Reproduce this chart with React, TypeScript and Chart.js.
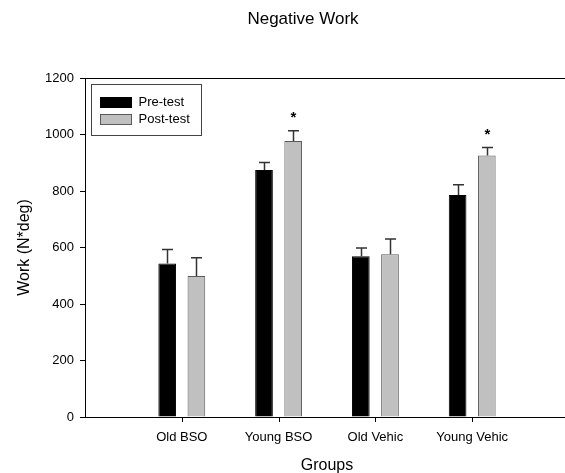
import React, { useEffect, useRef } from 'react';
import { Chart, registerables } from 'chart.js';

Chart.register(...registerables);

const categories = ['Old BSO', 'Young BSO', 'Old Vehic', 'Young Vehic'];
const preTest = [543, 874, 569, 786];
const postTest = [499, 977, 576, 926];
const preErr = [50, 27, 29, 36];
const postErr = [65, 36, 54, 28];
const postSignificant = [false, true, false, true];
const yMin = 0;
const yMax = 1200;
const yStep = 200;

const FONT = "'Liberation Sans', Arial, Helvetica, sans-serif";

const pad = (arr: any[]) => [null, ...arr, null];

const decorPlugin = {
  id: 'decor',
  afterDatasetsDraw(chart: any) {
    const ctx = chart.ctx;
    const ys = chart.scales.y;
    const xs = chart.scales.x;
    const area = chart.chartArea;
    ctx.save();
    chart.data.datasets.forEach((ds: any, di: number) => {
      const meta = chart.getDatasetMeta(di);
      meta.data.forEach((bar: any, j: number) => {
        const v = ds.data[j];
        const e = ds.errors[j];
        if (v == null || e == null) return;
        const x = Math.round(bar.x) + 0.5;
        const top = ys.getPixelForValue(v + e);
        ctx.strokeStyle = '#333333';
        ctx.lineWidth = 1.5;
        ctx.beginPath();
        ctx.moveTo(x, bar.y);
        ctx.lineTo(x, top);
        ctx.moveTo(x - 5.5, top);
        ctx.lineTo(x + 5.5, top);
        ctx.stroke();
        if (ds.stars && ds.stars[j]) {
          ctx.fillStyle = '#000';
          ctx.font = `bold 15px ${FONT}`;
          ctx.textAlign = 'center';
          ctx.textBaseline = 'alphabetic';
          ctx.fillText('*', x, top - 8.5);
        }
      });
    });
    // category tick marks
    ctx.strokeStyle = '#000';
    ctx.lineWidth = 1;
    ctx.beginPath();
    for (let i = 1; i <= categories.length; i++) {
      const x = Math.round(xs.getPixelForValue(i)) + 0.5;
      ctx.moveTo(x, area.bottom);
      ctx.lineTo(x, area.bottom + 5);
    }
    ctx.stroke();
    // top frame line
    ctx.beginPath();
    ctx.moveTo(area.left, Math.round(area.top) + 0.5);
    ctx.lineTo(area.right, Math.round(area.top) + 0.5);
    ctx.stroke();
    // legend
    const lx = Math.round(area.left) + 6.5;
    const ly = Math.round(area.top) + 6.5;
    ctx.fillStyle = '#fff';
    ctx.fillRect(lx, ly, 110, 51);
    ctx.strokeStyle = '#444';
    ctx.lineWidth = 1;
    ctx.strokeRect(lx, ly, 110, 51);
    chart.data.datasets.forEach((ds: any, i: number) => {
      const yc = area.top + 23.7 + i * 17.1;
      const sx = Math.round(area.left) + 15.5;
      const sy = Math.round(yc - 5) + 0.5;
      ctx.fillStyle = ds.backgroundColor;
      ctx.fillRect(sx, sy, 31, 10);
      ctx.strokeStyle = ds.borderColor;
      ctx.strokeRect(sx, sy, 31, 10);
      ctx.fillStyle = '#000';
      ctx.font = `13px ${FONT}`;
      ctx.textAlign = 'left';
      ctx.textBaseline = 'middle';
      ctx.fillText(ds.label, area.left + 53.5, yc + 0.5);
    });
    ctx.restore();
  },
};

export default function App() {
  const ref = useRef<HTMLCanvasElement | null>(null);
  useEffect(() => {
    document.documentElement.style.overflow = 'hidden';
    document.body.style.overflow = 'hidden';
    const canvas = ref.current;
    if (!canvas) return;
    const labels = ['', ...categories, ''];
    const chart = new Chart(canvas, {
      type: 'bar',
      data: {
        labels,
        datasets: [
          {
            label: 'Pre-test',
            data: pad(preTest),
            errors: pad(preErr),
            backgroundColor: '#000000',
            borderColor: '#000000',
            borderWidth: 1,
            categoryPercentage: 0.603,
            barPercentage: 0.606,
          } as any,
          {
            label: 'Post-test',
            data: pad(postTest),
            errors: pad(postErr),
            stars: pad(postSignificant),
            backgroundColor: '#c0c0c0',
            borderColor: '#5a5a5a',
            borderWidth: 1,
            categoryPercentage: 0.603,
            barPercentage: 0.606,
          } as any,
        ],
      },
      options: {
        responsive: false,
        animation: false,
        devicePixelRatio: 1,
        layout: { padding: 0 },
        plugins: {
          legend: { display: false },
          tooltip: { enabled: false },
          title: {
            display: true,
            text: 'Negative Work',
            color: '#000',
            font: { family: FONT, size: 17, weight: 'normal' },
            padding: { top: 9, bottom: 48.6 },
          },
        },
        scales: {
          x: {
            type: 'category',
            offset: false,
            afterFit: (s: any) => { s.height = 56; },
            grid: {
              offset: false,
              display: false,
            },
            border: { display: true, color: '#000', width: 1 },
            ticks: {
              color: '#000',
              font: { family: FONT, size: 13 },
              padding: 5,
              autoSkip: false,
              maxRotation: 0,
            },
            title: {
              display: true,
              text: 'Groups',
              color: '#000',
              font: { family: FONT, size: 16 },
              padding: { top: 0, bottom: -2 },
            },
          },
          y: {
            min: yMin,
            max: yMax,
            afterFit: (s: any) => { s.width = 85; },
            grid: {
              drawOnChartArea: false,
              drawTicks: true,
              tickLength: 5,
              tickColor: '#000',
            },
            border: { display: true, color: '#000', width: 1 },
            ticks: {
              stepSize: yStep,
              color: '#000',
              font: { family: FONT, size: 13 },
              padding: 6,
              callback: (v: any) => String(v),
            },
            title: {
              display: true,
              text: 'Work (N*deg)',
              color: '#000',
              font: { family: FONT, size: 16 },
              padding: { top: 15.4, bottom: 0 },
            },
          },
          spacer: {
            type: 'linear',
            position: 'right',
            display: true,
            afterFit: (s: any) => { s.width = 37; },
            grid: { display: false, drawOnChartArea: false },
            border: { display: false },
            ticks: { display: false },
          },
        },
      } as any,
      plugins: [decorPlugin],
    });
    return () => chart.destroy();
  }, []);
  return (
    <div style={{ position: 'absolute', left: 0, top: 0, width: 606, height: 473, background: '#fff' }}>
      <canvas ref={ref} width={606} height={473} style={{ display: 'block' }} />
    </div>
  );
}
